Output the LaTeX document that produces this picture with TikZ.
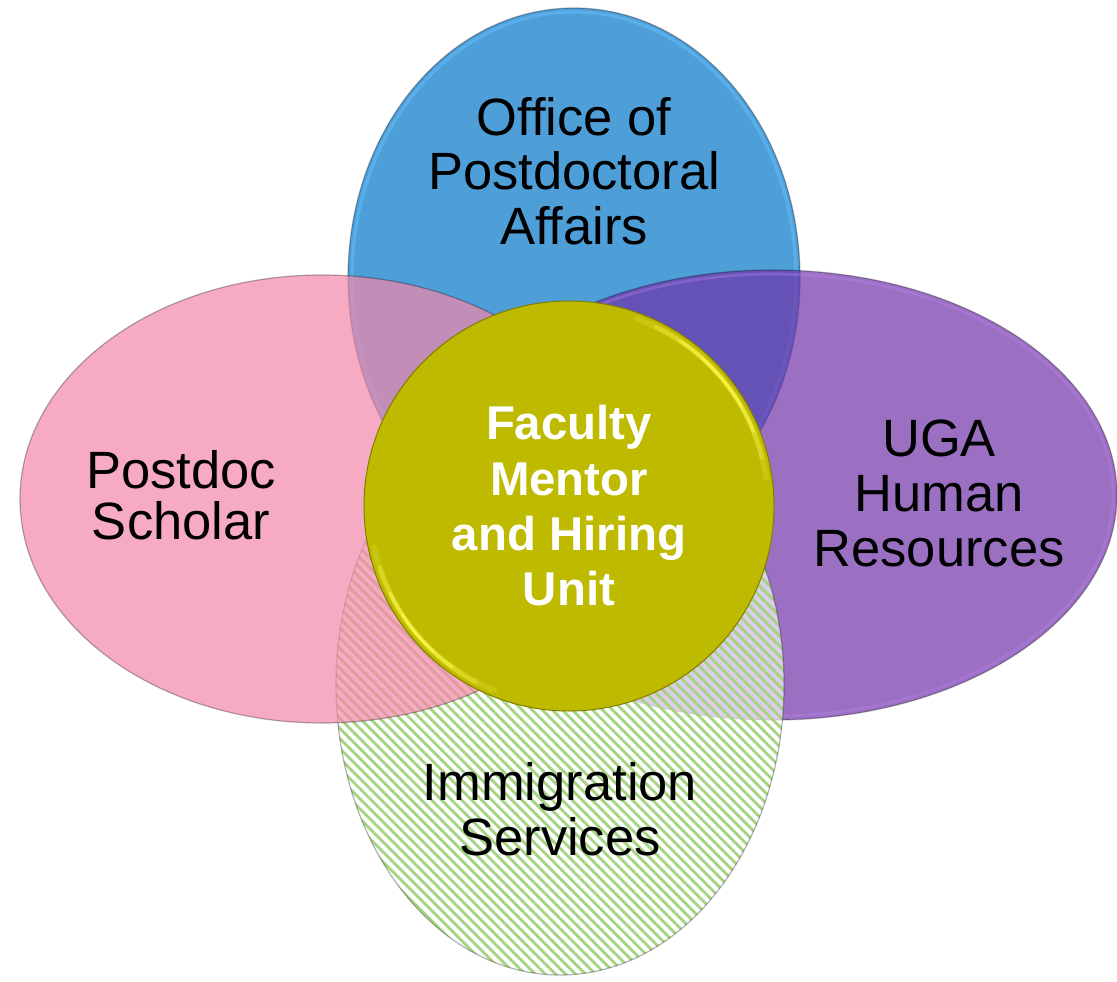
\documentclass[tikz,border=0pt]{standalone}
\usepackage{fontspec}
\setmainfont{Liberation Sans}
\usetikzlibrary{patterns.meta}

\definecolor{opablue}{RGB}{78,158,216}
\definecolor{opablueglow}{RGB}{100,188,250}
\definecolor{scholarpink}{RGB}{244,135,168}
\definecolor{hrpurple}{RGB}{112,51,168}
\definecolor{hrpurpleglow}{RGB}{185,130,235}
\definecolor{stripegreen}{RGB}{164,212,128}
\definecolor{mentorolive}{RGB}{190,186,0}
\definecolor{mentoredge}{RGB}{130,125,0}
\definecolor{mentorshine}{RGB}{250,245,70}

\begin{document}
\begin{tikzpicture}[x=0.5pt,y=0.5pt,
  rim/.style={draw=black, draw opacity=0.3, line width=0.6pt},
  shine/.style={mentorshine, line cap=round},
  lbl/.style={anchor=base, inner sep=0pt, font=\fontsize{26.25pt}{27pt}\selectfont},
  lblbold/.style={anchor=base, inner sep=0pt, text=white,
                  font=\bfseries\fontsize{23.7pt}{27pt}\selectfont}]
\useasboundingbox (0,0) rectangle (1117,981);

% Office of Postdoctoral Affairs (back layer)
\fill[opablue] (574,703) ellipse[x radius=226, y radius=270];
\draw[opablueglow, line width=1.6pt, opacity=0.55] (574,703) ellipse[x radius=222, y radius=266];
\draw[rim] (574,703) ellipse[x radius=226, y radius=270];

% UGA Human Resources
\fill[hrpurple, fill opacity=0.7] (773,486) ellipse[x radius=344, y radius=225];
\draw[hrpurpleglow, line width=1.4pt, opacity=0.35] (773,486) ellipse[x radius=340, y radius=221];
\draw[rim] (773,486) ellipse[x radius=344, y radius=225];

% Immigration Services (striped)
\fill[white, fill opacity=0.65] (560,296) ellipse[x radius=224, y radius=290];
\fill[pattern={Lines[angle=-45,distance=3.55pt,line width=1.4pt]}, pattern color=stripegreen]
  (560,296) ellipse[x radius=224, y radius=290];
\draw[rim] (560,296) ellipse[x radius=224, y radius=290];

% Postdoc Scholar
\fill[scholarpink, fill opacity=0.7] (322,482) ellipse[x radius=302, y radius=224];
\draw[rim] (322,482) ellipse[x radius=302, y radius=224];

% Faculty Mentor and Hiring Unit (front disc with bevel shine)
\coordinate (hub) at (569,475);
\fill[mentorolive] (hub) circle[radius=205];
\draw[mentoredge, line width=0.5pt] (hub) circle[radius=205];
\foreach \a/\b/\w/\o in {8/70/2.8pt/0.2, 14/64/2.2pt/0.35, 22/56/1.6pt/0.6, 30/48/1.2pt/0.8}{
  \draw[shine, line width=\w, opacity=\o] (hub) ++(\a:199) arc[start angle=\a, end angle=\b, radius=199];
}
\foreach \a/\b/\w/\o in {192/248/2.8pt/0.2, 198/242/2.2pt/0.35, 206/234/1.6pt/0.6, 213/227/1.2pt/0.8}{
  \draw[shine, line width=\w, opacity=\o] (hub) ++(\a:199) arc[start angle=\a, end angle=\b, radius=199];
}

% Labels
\node[lbl] (opa1) at (574,845) {Office of};
\node[lbl] (opa2) at (574,791) {Postdoctoral};
\node[lbl] (opa3) at (574,736.5) {Affairs};

\node[lbl] (pds1) at (181,493) {Postdoc};
\node[lbl] (pds2) at (181,441.5) {Scholar};

\node[lbl] (hr1) at (939,525) {UGA};
\node[lbl] (hr2) at (939,470) {Human};
\node[lbl] (hr3) at (939,414.5) {Resources};

\node[lbl] (imm1) at (560,181) {Immigration};
\node[lbl] (imm2) at (560,126) {Services};

\node[lblbold] (fm1) at (569,542) {Faculty};
\node[lblbold] (fm2) at (569,486) {Mentor};
\node[lblbold] (fm3) at (569,431) {and Hiring};
\node[lblbold] (fm4) at (569,376) {Unit};
\end{tikzpicture}
\end{document}
